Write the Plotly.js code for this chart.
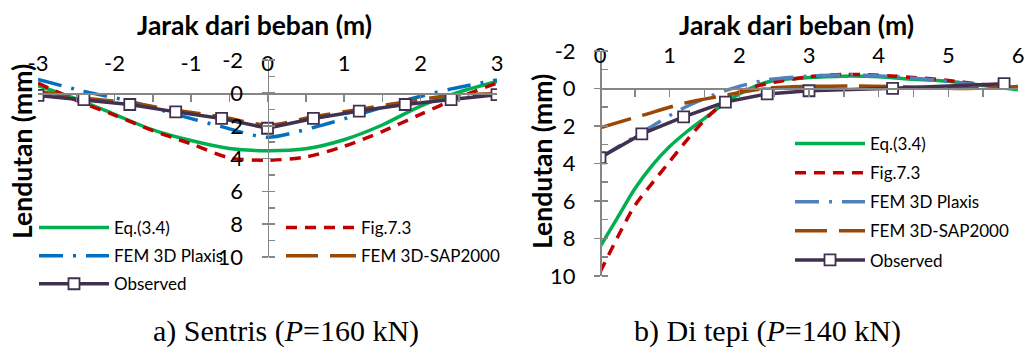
<!DOCTYPE html>
<html>
<head>
<meta charset="utf-8">
<script src="https://cdn.plot.ly/plotly-3.0.1.min.js"></script>
<style>html,body{margin:0;padding:0;background:#fff;}#chart{width:1028px;height:349px;}</style>
</head>
<body>
<div id="chart"></div>
<script>
// ---------- data ----------
// a) Sentris (P=160 kN)
const sentrisCurveX = [-3, -2.5, -2, -1.5, -1, -0.5, 0, 0.5, 1, 1.5, 2, 2.5, 3];
const sentrisEq34   = [-0.45, 0.36, 1.3, 2.25, 2.9, 3.38, 3.52, 3.4, 2.85, 1.95, 0.8, -0.05, -0.7];
const sentrisFig73  = [-0.6, 0.45, 1.35, 2.3, 3.1, 3.95, 4.1, 3.9, 3.25, 2.35, 1.3, 0.27, -0.6];
const sentrisNodeX  = [-3, -2.4, -1.8, -1.2, -0.6, 0, 0.6, 1.2, 1.8, 2.4, 3];
const sentrisPlaxis = [-0.83, -0.1, 0.5, 1.3, 2.05, 2.7, 2.1, 1.3, 0.45, -0.25, -0.8];
const sentrisSap    = [-0.1, 0.3, 0.6, 1.05, 1.45, 1.95, 1.45, 1.0, 0.55, 0.15, 0.05];
const sentrisObs    = [0.15, 0.4, 0.7, 1.15, 1.55, 2.15, 1.55, 1.1, 0.7, 0.4, 0.1];

// b) Di tepi (P=140 kN)
const tepiCurveX = [0, 0.25, 0.5, 0.75, 1, 1.25, 1.5, 1.75, 2, 2.25, 2.5, 3, 3.5, 4, 4.5, 5, 5.5, 6];
const tepiEq34   = [8.45, 6.9, 5.35, 4.1, 3.1, 2.3, 1.6, 0.9, 0.3, -0.15, -0.42, -0.58, -0.65, -0.62, -0.48, -0.38, -0.15, 0.08];
const tepiFig73  = [9.8, 7.95, 6.25, 5.05, 3.9, 2.75, 1.7, 0.85, 0.2, -0.12, -0.32, -0.62, -0.74, -0.7, -0.58, -0.42, -0.2, 0.0];
const tepiNodeX  = [0, 0.6, 1.2, 1.8, 2.4, 3.0, 3.6, 4.2, 4.8, 5.4, 6.0];
const tepiPlaxis = [3.7, 2.35, 1.05, 0.12, -0.45, -0.65, -0.72, -0.62, -0.45, -0.2, 0.0];
const tepiSap    = [2.1, 1.45, 0.8, 0.37, 0.0, -0.1, -0.12, -0.1, -0.02, 0.0, -0.1];
const tepiObsX   = [0, 0.6, 1.2, 1.8, 2.4, 3.0, 4.2, 5.8];
const tepiObs    = [3.7, 2.43, 1.52, 0.73, 0.3, 0.13, 0.0, -0.25];

// tick labels
const sentrisXTicks = [-3, -2, -1, 0, 1, 2, 3];
const sentrisXText  = ['-3', '-2', '-1', '0', '1', '2', '3'];
const tepiXTicks    = [0, 1, 2, 3, 4, 5, 6];
const tepiXText     = ['0', '1', '2', '3', '4', '5', '6'];
const yTicks        = [-2, 0, 2, 4, 6, 8, 10];
const yText         = ['-2', '0', '2', '4', '6', '8', '10'];

const seriesNames = ['Eq.(3.4)', 'Fig.7.3', 'FEM 3D Plaxis', 'FEM 3D-SAP2000', 'Observed'];
const xTitle = 'Jarak dari beban (m)';
const yTitle = 'Lendutan (mm)';
const captionA = 'a) Sentris (<i>P</i>=160 kN)';
const captionB = 'b) Di tepi (<i>P</i>=140 kN)';

// ---------- styling ----------
const FONT = 'Lato, "Open Sans", sans-serif';
const SERIF = '"Liberation Serif", "Times New Roman", serif';
const AX = '#868686';
const W = 1028, H = 349;
const cGreen = '#00b050', cRed = '#c00000', cBlueL = '#0070c0', cBlueR = '#4f81bd', cBrown = '#984807', cObs = '#403151';

// plot areas in pixels -> paper
const L = {x0: 38, x1: 497, yTop: 60.2, yBot: 257};
const R = {x0: 600, x1: 1018, yTop: 50.8, yBot: 276};
function dom(a) { return {x: [a.x0 / W, a.x1 / W], y: [(H - a.yBot) / H, (H - a.yTop) / H]}; }
const dL = dom(L), dR = dom(R);
const yRange = [10, -2];
function zeroPos(d) { return d.y[0] + (yRange[0] - 0) / (yRange[0] - yRange[1]) * (d.y[1] - d.y[0]); }

function xAxis(d, range, tv, tt, pos, standoff) {
  return {
    domain: d.x, range: range, anchor: 'free', position: pos, side: 'top',
    showline: true, linecolor: AX, linewidth: 1.5,
    ticks: 'inside', ticklen: 7, tickwidth: 1.5, tickcolor: AX,
    tickmode: 'array', tickvals: tv, ticktext: tt,
    minor: {tickmode: 'linear', tick0: 0, dtick: 0.5, ticks: 'inside', ticklen: 7, tickwidth: 1.5, tickcolor: AX},
    showgrid: false, zeroline: false, fixedrange: true,
    ticklabelstandoff: standoff,
    tickfont: {family: FONT, size: 22, color: '#000'}
  };
}
function yAxis(d, pos) {
  return {
    domain: d.y, range: yRange, anchor: 'free', position: pos, side: 'left',
    showline: true, linecolor: AX, linewidth: 1.5,
    ticks: 'outside', ticklen: 6, tickwidth: 1.5, tickcolor: AX,
    tickmode: 'array', tickvals: yTicks, ticktext: yText,
    minor: {tickmode: 'linear', tick0: 0, dtick: 1, ticks: 'inside', ticklen: 6, tickwidth: 1.5, tickcolor: AX},
    showgrid: false, zeroline: false, fixedrange: true,
    ticklabelstandoff: 14,
    tickfont: {family: FONT, size: 22, color: '#000'}
  };
}

function tr(x, y, name, color, dash, shape, xa, ya, leg, grp, extra) {
  const t = {
    type: 'scatter', mode: 'lines', x: x, y: y, name: name,
    xaxis: xa, yaxis: ya, legend: leg, legendgroup: grp,
    line: {color: color, width: 3.5, dash: dash, shape: shape, smoothing: 0.8},
    hoverinfo: 'skip'
  };
  return Object.assign(t, extra || {});
}
const obsExtra = {mode: 'lines+markers', marker: {symbol: 'square', size: 11, color: '#fff', line: {color: cObs, width: 1.8}}};

const data = [
  tr(sentrisCurveX, sentrisEq34, seriesNames[0], cGreen, 'solid', 'spline', 'x', 'y', 'legend', 'a1'),
  tr(sentrisCurveX, sentrisFig73, seriesNames[1], cRed, '11px,8px', 'spline', 'x', 'y', 'legend3', 'a2'),
  tr(sentrisNodeX, sentrisPlaxis, seriesNames[2], cBlueL, '24px,10px,3px,10px', 'spline', 'x', 'y', 'legend', 'a3'),
  tr(sentrisNodeX, sentrisSap, seriesNames[3], cBrown, '32px,12px', 'spline', 'x', 'y', 'legend3', 'a4'),
  tr(sentrisNodeX, sentrisObs, seriesNames[4], cObs, 'solid', 'linear', 'x', 'y', 'legend', 'a5', obsExtra),

  tr(tepiCurveX, tepiEq34, seriesNames[0], cGreen, 'solid', 'spline', 'x2', 'y2', 'legend2', 'b1'),
  tr(tepiCurveX, tepiFig73, seriesNames[1], cRed, '11px,8px', 'spline', 'x2', 'y2', 'legend2', 'b2'),
  tr(tepiNodeX, tepiPlaxis, seriesNames[2], cBlueR, '24px,10px,3px,10px', 'spline', 'x2', 'y2', 'legend2', 'b3'),
  tr(tepiNodeX, tepiSap, seriesNames[3], cBrown, '32px,12px', 'spline', 'x2', 'y2', 'legend2', 'b4'),
  tr(tepiObsX, tepiObs, seriesNames[4], cObs, 'solid', 'linear', 'x2', 'y2', 'legend2', 'b5', obsExtra)
];

function legendCfg(xpx, ytop, gap) {
  return {
    x: xpx / W, y: (H - ytop) / H, xanchor: 'left', yanchor: 'top',
    orientation: 'v', bgcolor: 'rgba(0,0,0,0)', borderwidth: 0,
    tracegroupgap: gap, itemwidth: 70, itemclick: false, itemdoubleclick: false,
    font: {family: FONT, size: 17, color: '#000'}
  };
}

function ann(text, xpx, ypx, size, family, bold, angle) {
  return {
    text: bold ? '<b>' + text + '</b>' : text,
    xref: 'paper', yref: 'paper', x: xpx / W, y: (H - ypx) / H,
    xanchor: 'center', yanchor: 'middle', showarrow: false,
    textangle: angle || 0,
    font: {family: family, size: size, color: '#000'}
  };
}

const layout = {
  width: W, height: H,
  margin: {l: 0, r: 0, t: 0, b: 0, pad: 0},
  paper_bgcolor: '#fff', plot_bgcolor: 'rgba(0,0,0,0)',
  showlegend: true,
  xaxis: xAxis(dL, [-3, 3], sentrisXTicks, sentrisXText, zeroPos(dL), 13),
  yaxis: yAxis(dL, (L.x0 + (L.x1 - L.x0) / 2) / W),
  xaxis2: xAxis(dR, [0, 6], tepiXTicks, tepiXText, zeroPos(dR), 17),
  yaxis2: yAxis(dR, R.x0 / W),
  legend: legendCfg(34, 210, 3),
  legend3: legendCfg(281, 210, 3),
  legend2: legendCfg(790, 126, 4),
  annotations: [
    ann(xTitle, 254, 25, 26.5, FONT, true),
    ann(xTitle, 796, 25, 26.5, FONT, true),
    ann(yTitle, 22, 152, 26.5, FONT, true, -90),
    ann(yTitle, 542, 162, 26.5, FONT, true, -90),
    ann(captionA, 286, 331, 30, SERIF, false),
    ann(captionB, 767, 331, 30, SERIF, false)
  ]
};

Plotly.newPlot('chart', data, layout, {staticPlot: true, displayModeBar: false});
</script>
</body>
</html>
